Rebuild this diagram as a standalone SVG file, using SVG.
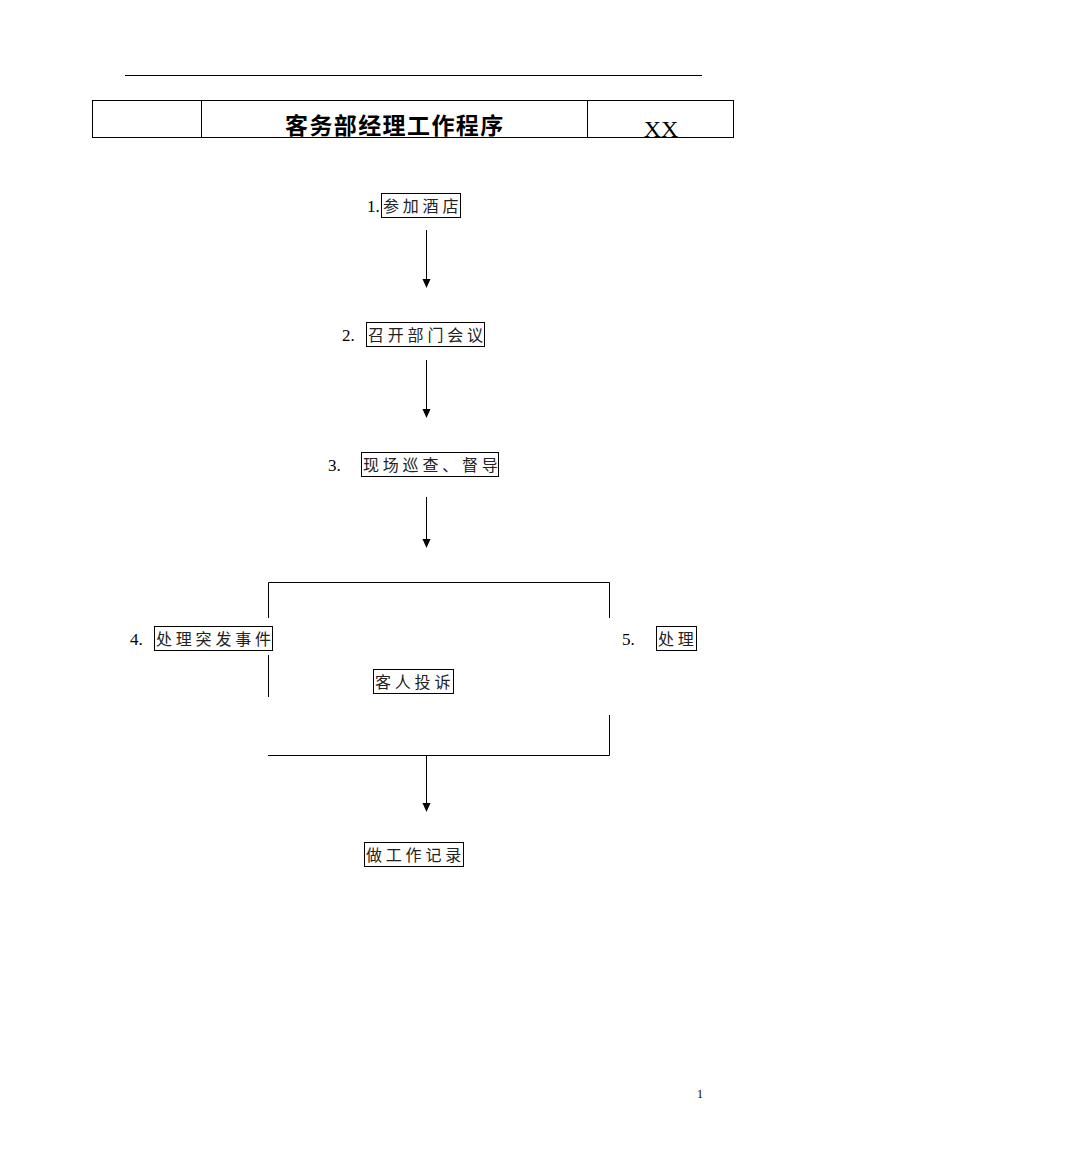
<svg xmlns="http://www.w3.org/2000/svg" width="1071" height="1169" viewBox="0 0 1071 1169">
<style>
.ln{stroke:#000;stroke-width:1;fill:none}
.bx{stroke:#000;stroke-width:1;fill:#fff}
.cj{font-family:"Noto Sans CJK SC","Noto Sans CJK JP",sans-serif;font-size:16px;letter-spacing:3.8px;fill:#222}
.nm{font-family:"Liberation Serif",serif;font-size:17px;fill:#000}
.tt{font-family:"Noto Sans CJK SC",sans-serif;font-size:23px;font-weight:bold;fill:#000;letter-spacing:1.4px}
</style>
<defs>
<marker id="ah" markerWidth="8" markerHeight="9" refX="4" refY="9" orient="auto-start-reverse" markerUnits="userSpaceOnUse" viewBox="0 0 8 9">
<path d="M0,0 L8,0 L4,9 Z" fill="#000" transform="rotate(0)"/>
</marker>
</defs>
<rect width="1071" height="1169" fill="#fff"/>
<g id="header">
<line class="ln" x1="125" y1="75.5" x2="702" y2="75.5"/>
<rect class="ln" x="92.5" y="100.5" width="641" height="37"/>
<line class="ln" x1="201.5" y1="100" x2="201.5" y2="137"/>
<line class="ln" x1="587.5" y1="100" x2="587.5" y2="137"/>
<text class="tt" x="285" y="134">客务部经理工作程序</text>
<text x="661" y="137" text-anchor="middle" style="font-family:'Liberation Serif',serif;font-size:24px">XX</text>
</g>
<g id="connectors">
<line class="ln" x1="426.5" y1="230" x2="426.5" y2="280"/>
<path d="M422.5,279 L430.5,279 L426.5,288 Z"/>
<line class="ln" x1="426.5" y1="360" x2="426.5" y2="410"/>
<path d="M422.5,409 L430.5,409 L426.5,418 Z"/>
<line class="ln" x1="426.5" y1="497" x2="426.5" y2="540"/>
<path d="M422.5,539 L430.5,539 L426.5,548 Z"/>
<polyline class="ln" points="268.5,618 268.5,582.5 609.5,582.5 609.5,618"/>
<line class="ln" x1="268.5" y1="655" x2="268.5" y2="697"/>
<polyline class="ln" points="609.5,715 609.5,755.5 268,755.5"/>
<line class="ln" x1="426.5" y1="755" x2="426.5" y2="804"/>
<path d="M422.5,803 L430.5,803 L426.5,812 Z"/>
</g>
<g id="n1">
<text class="nm" x="367" y="212">1.</text>
<rect class="bx" x="381.5" y="193.5" width="79" height="24"/>
<text class="cj" x="383" y="211.5">参加酒店</text>
</g>
<g id="n2">
<text class="nm" x="342" y="341">2.</text>
<rect class="bx" x="366.5" y="322.5" width="118" height="24"/>
<text class="cj" x="368" y="340.5">召开部门会议</text>
</g>
<g id="n3">
<text class="nm" x="328" y="471">3.</text>
<rect class="bx" x="361.5" y="452.5" width="137" height="24"/>
<text class="cj" x="363" y="470.5">现场巡查、督导</text>
</g>
<g id="n4">
<text class="nm" x="130" y="645">4.</text>
<rect class="bx" x="154.5" y="626.5" width="118" height="24"/>
<text class="cj" x="156" y="644.5">处理突发事件</text>
</g>
<g id="n5">
<text class="nm" x="622" y="645">5.</text>
<rect class="bx" x="656.5" y="626.5" width="40" height="24"/>
<text class="cj" x="658" y="644.5">处理</text>
</g>
<g id="n6">
<rect class="bx" x="373.5" y="669.5" width="80" height="24"/>
<text class="cj" x="375" y="687.5">客人投诉</text>
</g>
<g id="n7">
<rect class="bx" x="364.5" y="842.5" width="99" height="24"/>
<text class="cj" x="366" y="860.5">做工作记录</text>
</g>
<text x="700" y="1098" text-anchor="middle" style="font-family:'Liberation Serif',serif;font-size:12px">1</text>
</svg>
